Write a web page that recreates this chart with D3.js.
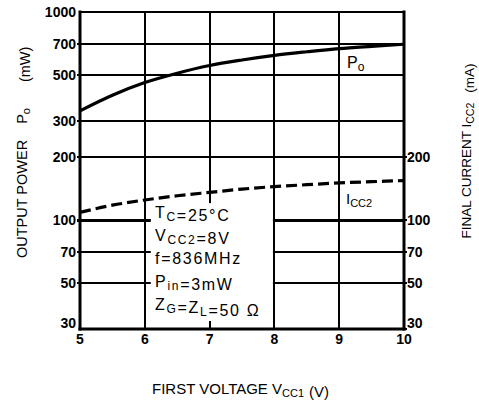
<!DOCTYPE html>
<html>
<head>
<meta charset="utf-8">
<script src="https://cdn.jsdelivr.net/npm/d3@7"></script>
<style>
  body { margin: 0; background: #fff; }
  svg { display: block; font-family: 'Liberation Sans', Arial, sans-serif; }
</style>
</head>
<body>
<div id="chart"></div>
<script>
const width = 479;
const height = 403;

// data
const vcc1 = [5, 5.5, 6, 6.5, 7, 7.5, 8, 8.5, 9, 9.5, 10];
const po = [335, 398, 458, 508, 553, 588, 619, 644, 667, 684, 700];
const icc2 = [109, 118, 125, 131, 136, 141, 145, 148, 151, 153, 155];
const xTicks = [5, 6, 7, 8, 9, 10];
const leftTicks = [30, 50, 70, 100, 200, 300, 500, 700, 1000];
const rightTicks = [30, 50, 70, 100, 200];
const gridValues = [50, 70, 100, 200, 300, 500, 700];

const x = d3.scaleLinear().domain([5, 10]).range([80, 404]);
const y = d3.scaleLog().domain([30, 1000]).range([329, 12]);

const svg = d3.select('#chart').append('svg')
  .attr('width', width)
  .attr('height', height);

const grid = svg.append('g')
  .attr('stroke', '#000')
  .attr('shape-rendering', 'crispEdges');

// horizontal grid lines
grid.selectAll('line.hgrid')
  .data(gridValues)
  .enter()
  .append('line')
  .attr('class', 'hgrid')
  .attr('x1', x(5) - 3)
  .attr('x2', x(10))
  .attr('y1', (d) => Math.round(y(d)))
  .attr('y2', (d) => Math.round(y(d)))
  .attr('stroke-width', (d) => (d === 100 ? 3 : 2));

// vertical grid lines
grid.selectAll('line.vgrid')
  .data(xTicks.slice(1, -1))
  .enter()
  .append('line')
  .attr('class', 'vgrid')
  .attr('x1', (d) => Math.round(x(d)))
  .attr('x2', (d) => Math.round(x(d)))
  .attr('y1', y(1000))
  .attr('y2', y(30))
  .attr('stroke-width', 2);

// white panel behind the conditions text
svg.append('rect')
  .attr('x', x(6) + 6)
  .attr('y', y(100) - 17)
  .attr('width', x(8) - x(6) - 7.5)
  .attr('height', y(30) - y(100) + 9)
  .attr('fill', '#fff');

// frame
const frame = [
  [x(5), y(30), x(5), y(1000), 3],
  [x(5), y(30), x(10), y(30), 3],
  [x(10), y(30), x(10), y(1000), 3],
  [x(5), y(1000), x(10), y(1000), 2.2]
];
svg.selectAll('line.frame')
  .data(frame)
  .enter()
  .append('line')
  .attr('class', 'frame')
  .attr('x1', (d) => d[0])
  .attr('y1', (d) => d[1])
  .attr('x2', (d) => d[2])
  .attr('y2', (d) => d[3])
  .attr('stroke', '#000')
  .attr('stroke-width', (d) => d[4])
  .attr('stroke-linecap', 'square');

// right-side tick stubs
grid.selectAll('line.rtick')
  .data(rightTicks)
  .enter()
  .append('line')
  .attr('class', 'rtick')
  .attr('x1', x(10))
  .attr('x2', x(10) + 3)
  .attr('y1', (d) => Math.round(y(d)))
  .attr('y2', (d) => Math.round(y(d)))
  .attr('stroke-width', 2);

// tick labels (the lowest one sits just above the bottom frame)
const labelY = (d) => Math.min(y(d) + 5, y(30) - 1);

svg.selectAll('text.ltick')
  .data(leftTicks)
  .enter()
  .append('text')
  .attr('class', 'ltick')
  .attr('x', x(5) - 4)
  .attr('y', labelY)
  .attr('text-anchor', 'end')
  .style('font-size', '14px')
  .style('font-weight', 'bold')
  .text((d) => d);

svg.selectAll('text.rlabel')
  .data(rightTicks)
  .enter()
  .append('text')
  .attr('class', 'rlabel')
  .attr('x', x(10) + 3)
  .attr('y', labelY)
  .style('font-size', '14px')
  .style('font-weight', 'bold')
  .text((d) => d);

svg.selectAll('text.xlabel')
  .data(xTicks)
  .enter()
  .append('text')
  .attr('class', 'xlabel')
  .attr('x', (d) => x(d))
  .attr('y', y(30) + 15)
  .attr('text-anchor', 'middle')
  .style('font-size', '14px')
  .style('font-weight', 'bold')
  .text((d) => d);

// curves
const line = d3.line()
  .x((d) => x(d[0]))
  .y((d) => y(d[1]))
  .curve(d3.curveMonotoneX);

svg.append('path')
  .attr('d', line(vcc1.map((v, i) => [v, po[i]])))
  .attr('fill', 'none')
  .attr('stroke', '#000')
  .attr('stroke-width', 3.2);

svg.append('path')
  .attr('d', line(vcc1.map((v, i) => [v, icc2[i]])))
  .attr('fill', 'none')
  .attr('stroke', '#000')
  .attr('stroke-width', 3.2)
  .attr('stroke-dasharray', '11,5');

// text with subscripts: parts are [text, isSub, dx]
const richText = (sel, parts, size, subSize) => {
  parts.forEach(([t, sub, dx]) => {
    sel.append('tspan')
      .attr('dx', dx || 0)
      .attr('dy', sub ? 3 : 0)
      .style('font-size', (sub ? subSize : size) + 'px')
      .text(t);
    if (sub) sel.append('tspan').attr('dy', -3).text('');
  });
  return sel;
};

// curve labels
richText(svg.append('text').attr('x', 347).attr('y', y(600) + 10),
  [['P', 0], ['o', 1]], 16, 12);
richText(svg.append('text').attr('x', 346).attr('y', y(145) + 17),
  [['I', 0], ['CC2', 1]], 15, 11);

// measurement conditions
const conditions = [
  [['T', 0], ['C', 1], ['=25°C', 0]],
  [['V', 0], ['CC2', 1], ['=8V', 0]],
  [['f=836MHz', 0]],
  [['P', 0], ['in', 1], ['=3mW', 0]],
  [['Z', 0], ['G', 1], ['=Z', 0], ['L', 1], ['=50 Ω', 0]]
];
conditions.forEach((parts, i) => {
  const t = svg.append('text')
    .attr('x', 155)
    .attr('y', 218 + i * 23)
    .style('letter-spacing', '1.7px');
  richText(t, parts, 16, 12);
});

// axis titles
const leftTitle = svg.append('text')
  .attr('transform', 'translate(27,258) rotate(-90)')
  .style('font-size', '14.5px');
richText(leftTitle, [['OUTPUT POWER', 0], ['P', 0, 16], ['o', 1], ['(mW)', 0, 26]], 14.5, 11);

const rightTitle = svg.append('text')
  .attr('transform', 'translate(471,151) rotate(-90)')
  .attr('text-anchor', 'middle')
  .style('font-size', '13.5px');
richText(rightTitle, [['FINAL CURRENT I', 0], ['CC2', 1], ['(mA)', 0, 10]], 13.5, 10.5);

const xTitle = svg.append('text')
  .attr('x', 152)
  .attr('y', 394)
  .style('font-size', '15px');
richText(xTitle, [['FIRST VOLTAGE V', 0], ['CC1', 1], ['(V)', 0, 5]], 15, 11);
</script>
</body>
</html>
